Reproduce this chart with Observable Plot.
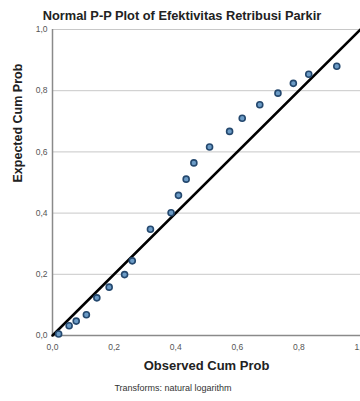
<!DOCTYPE html>
<html>
<head>
<meta charset="utf-8">
<script src="https://cdn.jsdelivr.net/npm/d3@7"></script>
<script src="https://cdn.jsdelivr.net/npm/@observablehq/plot@0.6"></script>
<style>
  html, body { margin: 0; padding: 0; background: #fff; }
  #wrap { position: relative; width: 360px; height: 401px; overflow: hidden; font-family: "Liberation Sans", Arial, sans-serif; }
  #title { position: absolute; left: 0; top: 0; width: 364px; height: 24px; text-align: center; font-weight: bold; font-size: 12.8px; line-height: 31px; color: #222; white-space: nowrap; }
  #chart { position: absolute; left: 0; top: 24px; }
  #caption { position: absolute; left: 0; top: 383px; width: 346px; text-align: center; font-size: 9px; color: #333; white-space: nowrap; }
</style>
</head>
<body>
<div id="wrap">
  <div id="title">Normal P-P Plot of Efektivitas Retribusi Parkir</div>
  <div id="chart"></div>
  <div id="caption">Transforms: natural logarithm</div>
</div>
<script>
const observedCumProb = [0.02, 0.054, 0.077, 0.11, 0.144, 0.184, 0.234, 0.259, 0.318, 0.385, 0.409, 0.434, 0.459, 0.51, 0.575, 0.616, 0.673, 0.732, 0.782, 0.832, 0.923];
const expectedCumProb = [0.005, 0.032, 0.047, 0.068, 0.123, 0.158, 0.199, 0.244, 0.347, 0.401, 0.458, 0.511, 0.564, 0.616, 0.667, 0.71, 0.754, 0.792, 0.824, 0.854, 0.88];
const referenceLine = [0, 1];
const tickValues = [0, 0.2, 0.4, 0.6, 0.8, 1.0];
const xLabel = "Observed Cum Prob";
const yLabel = "Expected Cum Prob";

const points = observedCumProb.map((x, i) => ({x, y: expectedCumProb[i]}));
const fmt = d => d.toFixed(1).replace(".", ",");

const plot = Plot.plot({
  width: 360,
  height: 355,
  marginLeft: 52,
  marginRight: 0,
  marginTop: 5,
  marginBottom: 44,
  style: {fontFamily: "'Liberation Sans', Arial, sans-serif", fontSize: "8.5px", color: "#555", background: "white"},
  x: {domain: [0, 1]},
  y: {domain: [0, 1]},
  marks: [
    Plot.gridY(tickValues, {stroke: "#c8c8c8", strokeOpacity: 1, strokeWidth: 1}),
    Plot.axisX(tickValues, {tickFormat: fmt, tickSize: 0, tickPadding: 8, label: null, fill: "#555"}),
    Plot.axisY(tickValues, {tickFormat: fmt, tickSize: 0, tickPadding: 5, label: null, fill: "#555"}),
    Plot.ruleY([0], {stroke: "#8a8a8a", strokeWidth: 1.5}),
    Plot.ruleX([0], {stroke: "#8a8a8a", strokeWidth: 1.5}),
    Plot.text([xLabel], {frameAnchor: "bottom", dy: 34, text: d => d, fontWeight: "bold", fontSize: 13, fill: "#222"}),
    Plot.text([yLabel], {frameAnchor: "left", dx: -35, rotate: -90, text: d => d, fontWeight: "bold", fontSize: 12.5, fill: "#222"}),
    Plot.line(referenceLine, {x: d => d, y: d => d, stroke: "black", strokeWidth: 2.5}),
    Plot.dot(points, {x: "x", y: "y", r: 3, fill: "#6b9bc6", stroke: "#24486e", strokeWidth: 1.6})
  ]
});
document.getElementById("chart").appendChild(plot);
</script>
</body>
</html>
